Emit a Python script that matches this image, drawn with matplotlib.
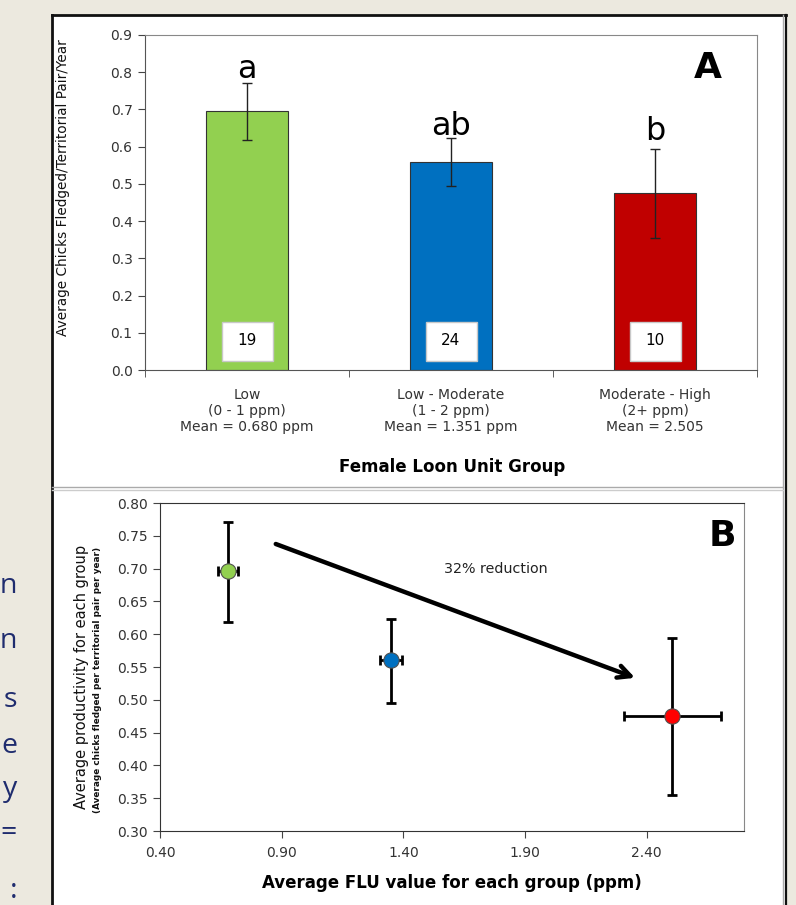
import matplotlib
matplotlib.use("Agg")
import matplotlib.pyplot as plt
from matplotlib.patches import Rectangle
from matplotlib.lines import Line2D

plt.rcParams['font.family'] = ['DejaVu Sans']

# ---------------- data ----------------
categories = ["Low\n(0 - 1 ppm)\nMean = 0.680 ppm",
              "Low - Moderate\n(1 - 2 ppm)\nMean = 1.351 ppm",
              "Moderate - High\n(2+ ppm)\nMean = 2.505"]
productivity = [0.696, 0.560, 0.475]
err_low = [0.077, 0.065, 0.120]
err_high = [0.075, 0.063, 0.119]
sample_sizes = ["19", "24", "10"]
sig_letters = ["a", "ab", "b"]
letter_y = [0.785, 0.632, 0.618]
bar_colors = ["#92D050", "#0070C0", "#C00000"]
point_colors = ["#92D050", "#0070C0", "#FF0000"]
flu_mean = [0.680, 1.351, 2.505]
flu_err = [0.04, 0.045, 0.20]
yticks_a = [0.0, 0.1, 0.2, 0.3, 0.4, 0.5, 0.6, 0.7, 0.8, 0.9]
yticks_b = [0.30, 0.35, 0.40, 0.45, 0.50, 0.55, 0.60, 0.65, 0.70, 0.75, 0.80]
xticks_b = [0.40, 0.90, 1.40, 1.90, 2.40]
side_text = ["n", "n", "s", "e", "y", "=", ":"]
side_y = [593, 648, 707, 753, 796, 840, 898]

W, H = 796, 905
fig = plt.figure(figsize=(W / 100, H / 100), dpi=100)
fig.patch.set_facecolor("#ECE9DF")

def fx(x):
    return x / W

def fy(y):
    return 1 - y / H

# white panel and borders
fig.patches.append(Rectangle((fx(52), fy(905)), fx(786) - fx(52), fy(15) - fy(905),
                             transform=fig.transFigure, facecolor="white", edgecolor="none", zorder=-5))
def fline(x0, y0, x1, y1, color, lw):
    fig.lines.append(Line2D([fx(x0), fx(x1)], [fy(y0), fy(y1)], transform=fig.transFigure,
                            color=color, lw=lw, zorder=-4))
fline(52, 15, 52, 905, "#111111", 2.0)
fline(52, 15, 786, 15, "#111111", 2.0)
fline(786, 15, 786, 905, "#111111", 1.6)
fline(783, 15, 783, 905, "#AAAAAA", 1.0)
fline(52, 487, 783, 487, "#AAAAAA", 1.0)
fline(52, 490, 783, 490, "#CCCCCC", 1.0)

# left side text fragments
for t, yy in zip(side_text, side_y):
    fig.text(fx(17), fy(yy), t, ha="right", va="baseline", fontsize=20.5,
             color="#1F2C6E", family=["Open Sans", "DejaVu Sans"])

# ---------------- Panel A ----------------
axA = fig.add_axes([fx(145), fy(370), fx(757) - fx(145), fy(35) - fy(370)])
x = list(range(len(categories)))
axA.bar(x, productivity, width=0.4, color=bar_colors, edgecolor="#333333", linewidth=0.8, zorder=2)
axA.errorbar(x, productivity, yerr=[err_low, err_high], fmt="none", ecolor="#222222",
             elinewidth=1.0, capsize=3.5, capthick=1.0, zorder=3)
for xi, n in zip(x, sample_sizes):
    axA.add_patch(Rectangle((xi - 0.125, 0.025), 0.25, 0.105, facecolor="white",
                            edgecolor="#C8C8C8", linewidth=1, zorder=4))
    axA.text(xi, 0.078, n, ha="center", va="center", fontsize=11, zorder=5)
for xi, lt, ly in zip(x, sig_letters, letter_y):
    axA.text(xi, ly, lt, ha="center", va="baseline", fontsize=23, color="black")
axA.text(0.92, 0.9, "A", transform=axA.transAxes, ha="center", va="center",
         fontsize=26, fontweight="bold")
axA.set_xlim(-0.5, 2.5)
axA.set_ylim(0, 0.9)
axA.set_yticks(yticks_a)
axA.set_yticklabels([f"{v:.1f}" for v in yticks_a], fontsize=10, color="#333333")
axA.set_xticks(x)
axA.set_xticklabels(categories, fontsize=10, color="#333333", linespacing=1.2)
axA.set_xticks([-0.5, 0.5, 1.5, 2.5], minor=True)
axA.tick_params(axis="x", which="major", length=0, pad=13)
axA.tick_params(axis="x", which="minor", length=5, direction="out", color="#444444")
axA.tick_params(axis="y", length=5, direction="out", color="#444444", pad=4)
for s in ["left", "bottom"]:
    axA.spines[s].set_color("#555555")
for s in ["top", "right"]:
    axA.spines[s].set_color("#888888")
fig.text(fx(452), fy(467), "Female Loon Unit Group", ha="center", va="center",
         fontsize=12, fontweight="bold")
fig.text(fx(63), fy(188), "Average Chicks Fledged/Territorial Pair/Year", ha="center", va="center",
         rotation=90, fontsize=9.8, color="#111111")

# ---------------- Panel B ----------------
axB = fig.add_axes([fx(160), fy(831), fx(744) - fx(160), fy(503) - fy(831)])
axB.errorbar(flu_mean, productivity, yerr=[err_low, err_high], xerr=flu_err, fmt="none",
             ecolor="black", elinewidth=2.0, capsize=3.5, capthick=2.0, zorder=2)
for xm, ym, c in zip(flu_mean, productivity, point_colors):
    axB.plot([xm], [ym], marker="o", ms=11, mfc=c, mec="#505050", mew=0.8, zorder=3, ls="none")
axB.annotate("", xy=(2.363, 0.532), xytext=(0.865, 0.739),
             arrowprops=dict(arrowstyle="->,head_length=0.9,head_width=0.45", lw=3.2, color="black"))
axB.text(1.78, 0.699, "32% reduction", ha="center", va="center", fontsize=10.3, color="#222222")
axB.text(0.963, 0.9, "B", transform=axB.transAxes, ha="center", va="center",
         fontsize=26, fontweight="bold")
axB.set_xlim(0.4, 2.8)
axB.set_ylim(0.3, 0.8)
axB.set_yticks(yticks_b)
axB.set_yticklabels([f"{v:.2f}" for v in yticks_b], fontsize=10, color="#333333")
axB.set_xticks(xticks_b)
axB.set_xticklabels([f"{v:.2f}" for v in xticks_b], fontsize=10, color="#333333")
axB.tick_params(axis="both", length=5, direction="out", color="#444444")
axB.tick_params(axis="x", pad=6)
for s in ["left", "bottom", "top"]:
    axB.spines[s].set_color("#333333")
axB.spines["right"].set_color("#888888")
fig.text(fx(452), fy(883), "Average FLU value for each group (ppm)", ha="center", va="center",
         fontsize=12, fontweight="bold")
fig.text(fx(82), fy(677), "Average productivity for each group", ha="center", va="center",
         rotation=90, fontsize=10.5, color="#111111")
fig.text(fx(98), fy(680), "(Average chicks fledged per territorial pair per year)", ha="center",
         va="center", rotation=90, fontsize=6.4, fontweight="bold", color="#111111")

fig.savefig("out.png", dpi=100, facecolor=fig.get_facecolor())
